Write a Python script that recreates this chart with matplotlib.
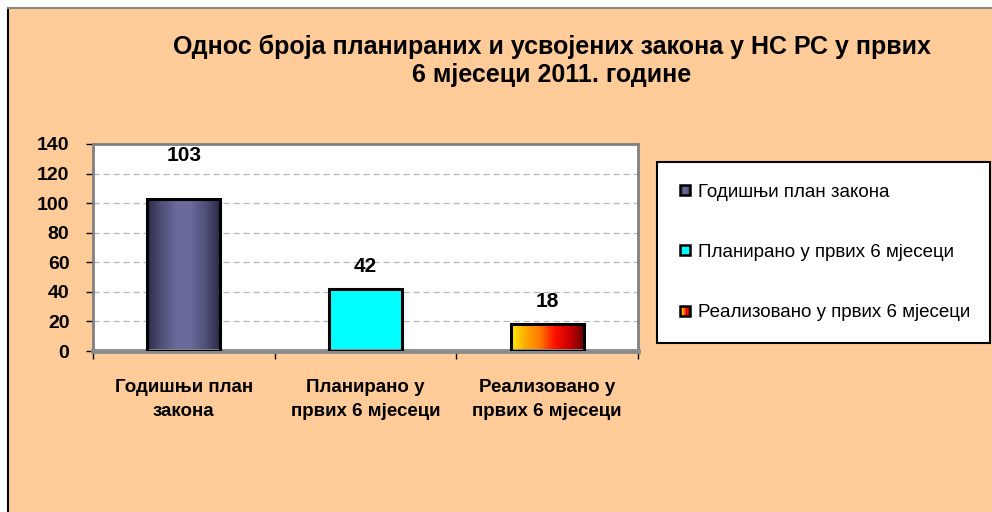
import numpy as np
import matplotlib
matplotlib.use("Agg")
import matplotlib.pyplot as plt
from matplotlib.patches import Rectangle
from matplotlib.colors import LinearSegmentedColormap
from matplotlib.legend_handler import HandlerBase

plt.rcParams['font.family'] = ['Liberation Sans', 'DejaVu Sans']

title = "Однос броја планираних и усвојених закона у НС РС у првих\n6 мјесеци 2011. године"
categories = ["Годишњи план\nзакона", "Планирано у\nпрвих 6 мјесеци", "Реализовано у\nпрвих 6 мјесеци"]
legend_labels = ["Годишњи план закона", "Планирано у првих 6 мјесеци", "Реализовано у првих 6 мјесеци"]
values = [103, 42, 18]
yticks = [0, 20, 40, 60, 80, 100, 120, 140]

# style: gradients per bar (left -> right)
grad_colors = [
    ["#2a2a45", "#50507a", "#6a6a9c", "#6a6a9c", "#50507a", "#2a2a45"],
    ["#00ffff", "#00ffff"],
    ["#ffee00", "#ffaa00", "#ff7700", "#ff1100", "#cc0000", "#660000"],
]
cmaps = [LinearSegmentedColormap.from_list(f"g{i}", c) for i, c in enumerate(grad_colors)]
label_offsets_px = [43, 22, 23]

W, H = 992, 512
fig = plt.figure(figsize=(W / 100, H / 100), dpi=100)
fig.patch.set_facecolor("white")
bg = Rectangle((8 / W, 0), 1 - 8 / W, 1 - 8 / H, transform=fig.transFigure,
               facecolor="#ffcc99", edgecolor="none", zorder=-10)
fig.add_artist(bg)
fig.add_artist(plt.Line2D([7.5 / W, 7.5 / W], [0, 1 - 7.5 / H], transform=fig.transFigure,
                          color="black", lw=1.5))
fig.add_artist(plt.Line2D([7.5 / W, 1], [1 - 7.5 / H, 1 - 7.5 / H], transform=fig.transFigure,
                          color="#888888", lw=1.5))

ax = fig.add_axes([93 / W, 1 - 351 / H, (638 - 93) / W, (351 - 144) / H])
ax.set_facecolor("white")
x = np.arange(len(values))
bars = ax.bar(x, values, width=0.4, color="none", edgecolor="black", linewidth=2.2, zorder=3)

for b, cm in zip(bars, cmaps):
    x0, y0 = b.get_x(), b.get_y()
    w, h = b.get_width(), b.get_height()
    grad = np.linspace(0, 1, 256).reshape(1, -1)
    im = ax.imshow(grad, cmap=cm, aspect="auto", extent=(x0, x0 + w, y0, y0 + h),
                   zorder=2, interpolation="bilinear")
    clip = Rectangle((x0, y0), w, h, transform=ax.transData, facecolor="none", edgecolor="none")
    ax.add_patch(clip)
    im.set_clip_path(clip)

ax.set_xlim(-0.5, 2.5)
ax.set_ylim(0, 140)

for b, v, off in zip(bars, values, label_offsets_px):
    ax.annotate(str(v), (b.get_x() + b.get_width() / 2, v), xytext=(0, off * 0.72),
                textcoords="offset points", ha="center", va="center",
                fontsize=15, fontweight="bold", zorder=5)

ax.set_yticks(yticks)
ax.set_yticklabels([str(t) for t in yticks], fontsize=14, fontweight="bold")
ax.set_xticks([-0.5, 0.5, 1.5, 2.5])
ax.set_xticklabels([])
ax.tick_params(axis="y", direction="out", length=5, width=1, color="black", pad=12)
ax.tick_params(axis="x", direction="out", length=6, width=1, color="black")
for t in yticks[1:-1]:
    ax.axhline(t, color="#b8b8b8", lw=0.9, ls=(0, (5, 3)), zorder=1)
for s in ["top", "right", "left"]:
    ax.spines[s].set_color("#808080")
    ax.spines[s].set_linewidth(2)
ax.spines["bottom"].set_color("#8c8c8c")
ax.spines["bottom"].set_linewidth(3.5)

for xi, lab in zip(x, categories):
    ax.text(xi, -19, lab, ha="center", va="top", fontsize=13.5, fontweight="bold",
            transform=ax.transData, linespacing=1.5)

fig.text(552 / W, 1 - 61 / H, title, ha="center", va="center", fontsize=18,
         fontweight="bold", linespacing=1.2)

class GradHandler(HandlerBase):
    def __init__(self, cmap):
        super().__init__()
        self.cmap = cmap
    def create_artists(self, legend, orig_handle, xdescent, ydescent, width, height, fontsize, trans):
        arts = []
        n = 8
        s = height * 0.75
        x0 = -xdescent + (width - s) / 2
        y0 = -ydescent + (height - s) / 2
        for i in range(n):
            r = Rectangle((x0 + s * i / n, y0), s / n + 0.01, s, facecolor=self.cmap((i + 0.5) / n),
                          edgecolor="none", transform=trans)
            arts.append(r)
        arts.append(Rectangle((x0, y0), s, s, facecolor="none", edgecolor="black", lw=1.8, transform=trans))
        return arts

handles = [Rectangle((0, 0), 1, 1) for _ in cmaps]
leg = fig.legend(handles, legend_labels, handler_map={h: GradHandler(c) for h, c in zip(handles, cmaps)},
                 loc="upper left", bbox_to_anchor=(657 / W, 1 - 340 / H, 333 / W, 178 / H),
                 mode="expand", frameon=True, framealpha=1, facecolor="white",
                 fontsize=13.5, labelspacing=2.3, handlelength=0.7, handletextpad=0.35,
                 borderpad=1.15, borderaxespad=0, fancybox=False)
leg.get_frame().set_edgecolor("black")
leg.get_frame().set_linewidth(1.5)

fig.savefig("out.png", dpi=100, facecolor=fig.get_facecolor())
